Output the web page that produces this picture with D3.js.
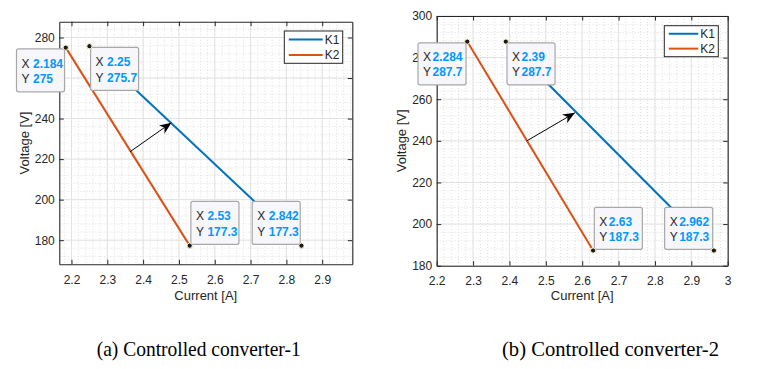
<!DOCTYPE html>
<html>
<head>
<meta charset="utf-8">
<script src="https://cdnjs.cloudflare.com/ajax/libs/d3/7.8.5/d3.min.js"></script>
<style>
  html, body { margin: 0; padding: 0; background: #fff; }
  svg { display: block; }
  text { font-family: "Liberation Sans", Arial, Helvetica, sans-serif; }
</style>
</head>
<body>
<svg id="chart"></svg>
<script>
// values
const seriesNames = ["K1", "K2"];

// (a) converter-1
const k1CurrentA = [2.25, 2.842];
const k1VoltageA = [275.7, 177.3];
const k2CurrentA = [2.184, 2.53];
const k2VoltageA = [275, 177.3];
const arrowA = [[2.364, 223.7], [2.479, 238]];
const xTicksA = [2.2, 2.3, 2.4, 2.5, 2.6, 2.7, 2.8, 2.9];
const yTicksA = [180, 200, 220, 240, 260, 280];

// (b) converter-2
const k1CurrentB = [2.39, 2.962];
const k1VoltageB = [287.7, 187.3];
const k2CurrentB = [2.284, 2.63];
const k2VoltageB = [287.7, 187.3];
const arrowB = [[2.447, 239.9], [2.58, 253.5]];
const xTicksB = [2.2, 2.3, 2.4, 2.5, 2.6, 2.7, 2.8, 2.9, 3];
const yTicksB = [180, 200, 220, 240, 260, 280, 300];

const captions = ["(a) Controlled converter-1", "(b) Controlled converter-2"];

const width = 777, height = 369;
const colors = ["#0072BD", "#D95319"];
const axisColor = "#262626";
const tipBlue = "#0099ff";

const svg = d3.select("#chart").attr("width", width).attr("height", height);

svg.append("defs").append("marker")
    .attr("id", "arrowhead")
    .attr("viewBox", "0 0 12 10")
    .attr("refX", 12).attr("refY", 5)
    .attr("markerWidth", 12).attr("markerHeight", 10)
    .attr("markerUnits", "userSpaceOnUse")
    .attr("orient", "auto")
  .append("path")
    .attr("d", "M0,0 L12,5 L0,10 L3.5,5 Z")
    .attr("fill", "#000");

const panels = [
  {
    box: {left: 59.3, right: 352.3, top: 21.7, bottom: 264.3},
    xDomain: [2.166, 2.984], yDomain: [168.1, 287.8],
    xTicks: xTicksA, yTicks: yTicksA,
    series: [
      {I: k1CurrentA, V: k1VoltageA},
      {I: k2CurrentA, V: k2VoltageA}
    ],
    arrow: arrowA,
    legend: {x: 284.3, y: 31, w: 58.4, h: 32.3},
    caption: captions[0], capX: 198.7, capW: 204,
    gap: 3.5, tipH: 43
  },
  {
    box: {left: 436.7, right: 727.7, top: 16, bottom: 265.7},
    xDomain: [2.2, 3], yDomain: [180, 300],
    xTicks: xTicksB, yTicks: yTicksB,
    series: [
      {I: k1CurrentB, V: k1VoltageB},
      {I: k2CurrentB, V: k2VoltageB}
    ],
    arrow: arrowB,
    legend: {x: 664.3, y: 25.7, w: 54, h: 31},
    caption: captions[1], capX: 610.5, capW: 217,
    gap: 1.5, tipH: 42
  }
];

panels.forEach(function(p) {
  const b = p.box;
  const x = d3.scaleLinear().domain(p.xDomain).range([b.left, b.right]);
  const y = d3.scaleLinear().domain(p.yDomain).range([b.bottom, b.top]);
  const g = svg.append("g");

  // plot background
  g.append("rect")
      .attr("x", b.left).attr("y", b.top)
      .attr("width", b.right - b.left).attr("height", b.bottom - b.top)
      .attr("fill", "#fff");

  // minor grid
  const xStep = p.xTicks[1] - p.xTicks[0];
  const yStep = p.yTicks[1] - p.yTicks[0];
  const xMinor = d3.range(Math.ceil(p.xDomain[0] / (xStep / 5)), Math.floor(p.xDomain[1] / (xStep / 5)) + 1)
      .map(k => k * xStep / 5);
  const yMinor = d3.range(Math.ceil(p.yDomain[0] / (yStep / 5)), Math.floor(p.yDomain[1] / (yStep / 5)) + 1)
      .map(k => k * yStep / 5);

  g.append("g").selectAll("line").data(xMinor).enter().append("line")
      .attr("x1", d => x(d)).attr("x2", d => x(d))
      .attr("y1", b.top).attr("y2", b.bottom)
      .attr("stroke", "#dedede").attr("stroke-dasharray", "1,2");
  g.append("g").selectAll("line").data(yMinor).enter().append("line")
      .attr("x1", b.left).attr("x2", b.right)
      .attr("y1", d => y(d)).attr("y2", d => y(d))
      .attr("stroke", "#dedede").attr("stroke-dasharray", "1,2");

  // major grid
  g.append("g").selectAll("line").data(p.xTicks).enter().append("line")
      .attr("x1", d => x(d)).attr("x2", d => x(d))
      .attr("y1", b.top).attr("y2", b.bottom)
      .attr("stroke", "#e2e2e2");
  g.append("g").selectAll("line").data(p.yTicks).enter().append("line")
      .attr("x1", b.left).attr("x2", b.right)
      .attr("y1", d => y(d)).attr("y2", d => y(d))
      .attr("stroke", "#e2e2e2");

  const fmt = d => String(+d.toFixed(1));

  // axes with inward ticks
  const axB = g.append("g").attr("transform", "translate(0," + b.bottom + ")")
      .call(d3.axisBottom(x).tickValues(p.xTicks).tickFormat(fmt).tickSizeInner(-4.5).tickSizeOuter(0).tickPadding(11));
  const axT = g.append("g").attr("transform", "translate(0," + b.top + ")")
      .call(d3.axisTop(x).tickValues(p.xTicks).tickFormat("").tickSizeInner(-4.5).tickSizeOuter(0));
  const axL = g.append("g").attr("transform", "translate(" + b.left + ",0)")
      .call(d3.axisLeft(y).tickValues(p.yTicks).tickFormat(fmt).tickSizeInner(-4.5).tickSizeOuter(0).tickPadding(4.5));
  const axR = g.append("g").attr("transform", "translate(" + b.right + ",0)")
      .call(d3.axisRight(y).tickValues(p.yTicks).tickFormat("").tickSizeInner(-4.5).tickSizeOuter(0));

  [axB, axT, axL, axR].forEach(function(ax) {
    ax.select(".domain").attr("stroke", axisColor).attr("stroke-width", 1.1);
    ax.selectAll(".tick line").attr("stroke", axisColor);
    ax.selectAll(".tick text")
        .attr("fill", axisColor)
        .style("font-family", "'Liberation Sans', Arial, sans-serif")
        .style("font-size", "12px");
  });

  // axis labels
  g.append("text")
      .attr("x", (b.left + b.right) / 2).attr("y", 299.5)
      .attr("text-anchor", "middle")
      .attr("fill", axisColor).style("font-size", "13px")
      .text("Current [A]");
  g.append("text")
      .attr("transform", "translate(" + (b.left - 30.5) + "," + ((b.top + b.bottom) / 2) + ") rotate(-90)")
      .attr("text-anchor", "middle")
      .attr("fill", axisColor).style("font-size", "13px")
      .text("Voltage [V]");

  // series lines
  const line = d3.line().x(d => x(d[0])).y(d => y(d[1]));
  p.series.forEach(function(s, i) {
    g.append("path")
        .datum(d3.zip(s.I, s.V))
        .attr("d", line)
        .attr("fill", "none")
        .attr("stroke", colors[i])
        .attr("stroke-width", 2);
  });

  // arrow between the curves
  g.append("line")
      .attr("x1", x(p.arrow[0][0])).attr("y1", y(p.arrow[0][1]))
      .attr("x2", x(p.arrow[1][0])).attr("y2", y(p.arrow[1][1]))
      .attr("stroke", "#000").attr("stroke-width", 1)
      .attr("marker-end", "url(#arrowhead)");

  // legend
  const L = p.legend;
  const lg = g.append("g");
  lg.append("rect")
      .attr("x", L.x).attr("y", L.y).attr("width", L.w).attr("height", L.h)
      .attr("fill", "#fff").attr("stroke", axisColor).attr("stroke-width", 1);
  seriesNames.forEach(function(name, i) {
    const ly = L.y + L.h * (0.26 + 0.48 * i);
    lg.append("line")
        .attr("x1", L.x + 4.5).attr("x2", L.x + L.w - 20)
        .attr("y1", ly).attr("y2", ly)
        .attr("stroke", colors[i]).attr("stroke-width", 2);
    lg.append("text")
        .attr("x", L.x + L.w - 18).attr("y", ly + 4.2)
        .attr("fill", axisColor).style("font-size", "12px")
        .text(name);
  });

  // data tips: start of K2 -> below left, start of K1 -> below right,
  // end of K2 -> above right, end of K1 -> above left
  const tips = [
    {I: p.series[1].I[0], V: p.series[1].V[0], h: "left", v: "below"},
    {I: p.series[0].I[0], V: p.series[0].V[0], h: "right", v: "below"},
    {I: p.series[1].I[1], V: p.series[1].V[1], h: "right", v: "above"},
    {I: p.series[0].I[1], V: p.series[0].V[1], h: "left", v: "above"}
  ];

  tips.forEach(function(t) {
    const px = x(t.I), py = y(t.V);
    const tg = g.append("g");
    const rect = tg.append("rect");
    const labels = [["X", fmtTip(t.I)], ["Y", fmtTip(t.V)]];
    const texts = labels.map(function(l) {
      const txt = tg.append("text").attr("fill", axisColor).style("font-size", "12px");
      txt.append("tspan").text(l[0]);
      txt.append("tspan").attr("dx", p.gap)
          .attr("fill", tipBlue).style("font-weight", "bold").text(l[1]);
      return txt;
    });
    const tw = d3.max(texts, tx => tx.node().getComputedTextLength());
    const w = tw + 10, h = p.tipH;
    const bx = t.h === "left" ? px - w - 1.2 : px + 1.2;
    const by = t.v === "below" ? py + 1.2 : py - h - 1.2;
    rect.attr("x", bx).attr("y", by).attr("width", w).attr("height", h)
        .attr("rx", 2).attr("ry", 2)
        .attr("fill", "#f7f7fb").attr("stroke", "#a8a8a8").attr("stroke-width", 1.2);
    texts[0].attr("x", bx + 5).attr("y", by + h * 0.43 + 0.5);
    texts[1].attr("x", bx + 5).attr("y", by + h * 0.79 + 0.5);
    tg.append("circle")
        .attr("cx", px).attr("cy", py).attr("r", 2.6)
        .attr("fill", "#1a1a1a").attr("stroke", "#fff7cc").attr("stroke-width", 1);
  });

  // caption
  svg.append("text")
      .attr("x", p.capX).attr("y", 356)
      .attr("text-anchor", "middle")
      .attr("textLength", p.capW).attr("lengthAdjust", "spacingAndGlyphs")
      .style("font-family", "'Liberation Serif', 'Times New Roman', serif")
      .style("font-size", "21px")
      .attr("fill", "#000")
      .text(p.caption);
});

function fmtTip(v) {
  return String(+v.toFixed(3));
}
</script>
</body>
</html>
